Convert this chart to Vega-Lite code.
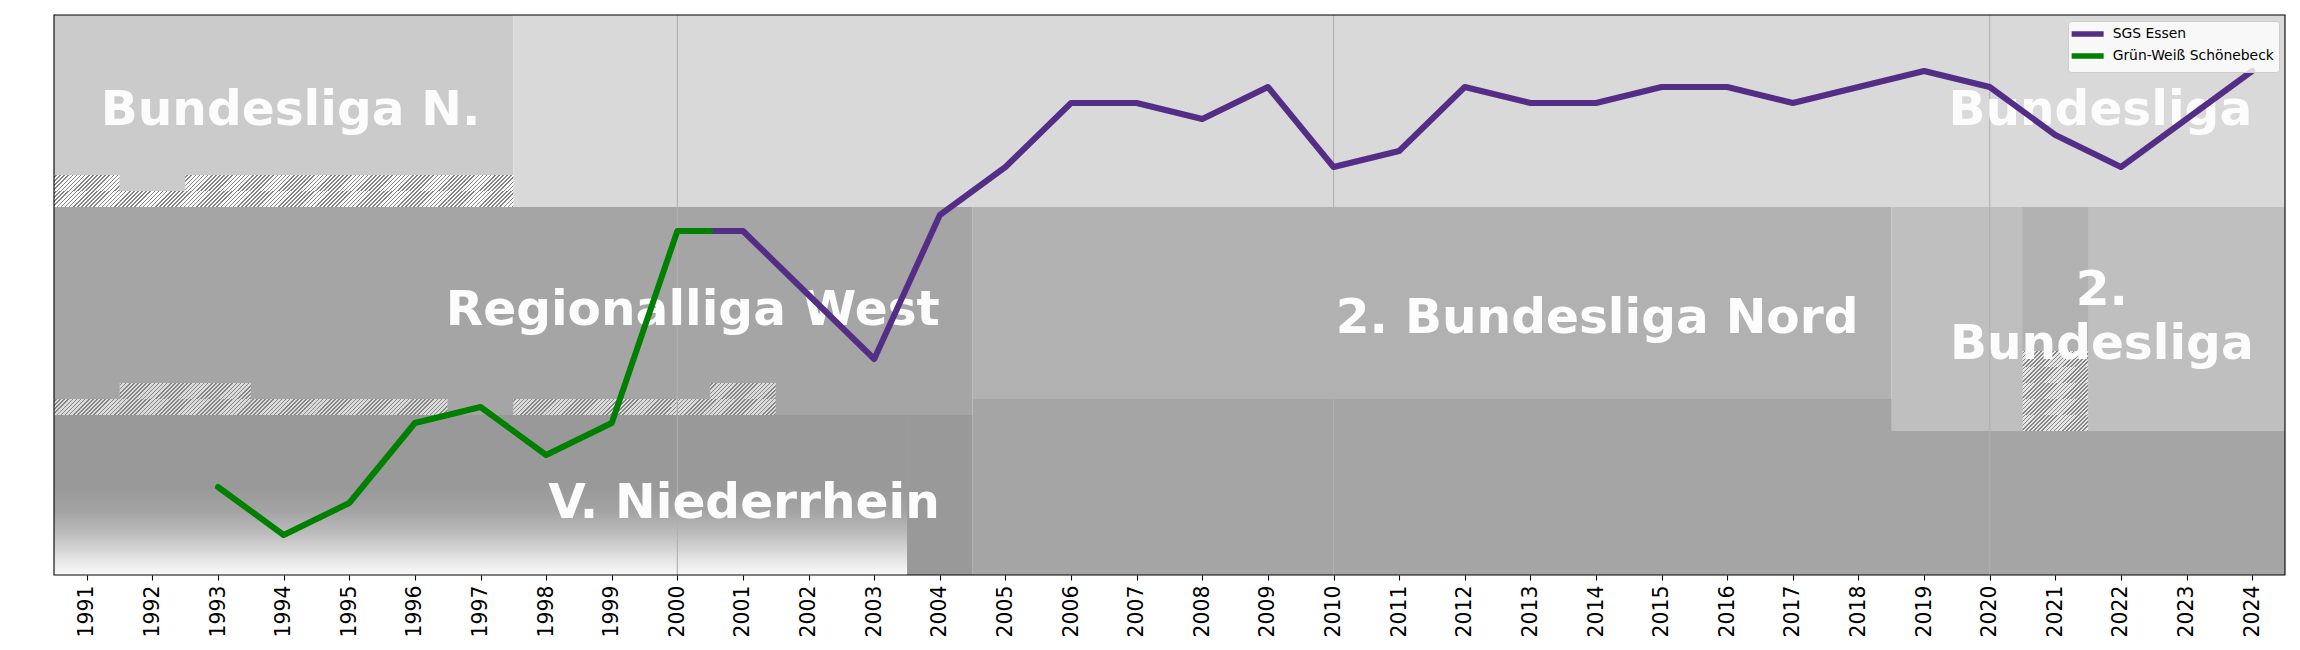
{
  "$schema": "https://vega.github.io/schema/vega-lite/v6.json",
  "width": 2231,
  "height": 560,
  "autosize": {"type": "none"},
  "padding": {"left": 54, "top": 15, "right": 15, "bottom": 75},
  "background": "white",
  "config": {
    "view": {"stroke": null},
    "font": "DejaVu Sans",
    "axisX": {"labelAngle": -90, "grid": false, "domain": false, "ticks": true, "tickColor": "black", "tickSize": 5, "tickWidth": 1.1,
      "labelFont": "DejaVu Sans", "labelFontSize": 20.4, "labelColor": "black", "labelPadding": 5, "labelOverlap": false, "labelFlush": false}
  },
  "datasets": {
    "leagues": [
      {"league": "Bundesliga N.", "x1": 1990.5, "x2": 1997.5, "y1": 0.5, "y2": 12.5},
      {"league": "Bundesliga", "x1": 1997.5, "x2": 2024.5, "y1": 0.5, "y2": 12.5},
      {"league": "Regionalliga West", "x1": 1990.5, "x2": 2004.5, "y1": 12.5, "y2": 25.5},
      {"league": "Regionalliga West", "x1": 2004.5, "x2": 2024.5, "y1": 24.5, "y2": 35.5},
      {"league": "2. Bundesliga Nord", "x1": 2004.5, "x2": 2018.5, "y1": 12.5, "y2": 24.5},
      {"league": "2. Bundesliga", "x1": 2018.5, "x2": 2024.5, "y1": 12.5, "y2": 26.5},
      {"league": "2. Bundesliga Nord", "x1": 2020.5, "x2": 2021.5, "y1": 12.5, "y2": 21.5},
      {"league": "Verbandsliga Niederrhein", "x1": 2003.5, "x2": 2004.5, "y1": 25.5, "y2": 35.5}
    ],
    "lowerleague": [
      {"league": "Verbandsliga Niederrhein", "x1": 1990.5, "x2": 2003.5, "y1": 25.5, "y2": 35.5}
    ],
    "hatchbg": [
      {"tier": "Bundesliga N.", "x1": 1990.5, "x2": 1991.5, "y1": 10.5, "y2": 12.5},
      {"tier": "Bundesliga N.", "x1": 1991.5, "x2": 1992.5, "y1": 11.5, "y2": 12.5},
      {"tier": "Bundesliga N.", "x1": 1992.5, "x2": 1997.5, "y1": 10.5, "y2": 12.5},
      {"tier": "Regionalliga West", "x1": 1990.5, "x2": 1991.5, "y1": 24.5, "y2": 25.5},
      {"tier": "Regionalliga West", "x1": 1991.5, "x2": 1993.5, "y1": 23.5, "y2": 25.5},
      {"tier": "Regionalliga West", "x1": 1993.5, "x2": 1996.5, "y1": 24.5, "y2": 25.5},
      {"tier": "Regionalliga West", "x1": 1997.5, "x2": 2000.5, "y1": 24.5, "y2": 25.5},
      {"tier": "Regionalliga West", "x1": 2000.5, "x2": 2001.5, "y1": 23.5, "y2": 25.5},
      {"tier": "2. Bundesliga Nord", "x1": 2020.5, "x2": 2021.5, "y1": 21.5, "y2": 26.5}
    ],
    "hatch": [
      {"tier": "Bundesliga N.", "x1": 1990.5, "x2": 1991.5, "y1": 10.5, "y2": 11.5},
      {"tier": "Bundesliga N.", "x1": 1990.5, "x2": 1991.5, "y1": 11.5, "y2": 12.5},
      {"tier": "Bundesliga N.", "x1": 1991.5, "x2": 1992.5, "y1": 11.5, "y2": 12.5},
      {"tier": "Bundesliga N.", "x1": 1992.5, "x2": 1993.5, "y1": 10.5, "y2": 11.5},
      {"tier": "Bundesliga N.", "x1": 1992.5, "x2": 1993.5, "y1": 11.5, "y2": 12.5},
      {"tier": "Bundesliga N.", "x1": 1993.5, "x2": 1994.5, "y1": 10.5, "y2": 11.5},
      {"tier": "Bundesliga N.", "x1": 1993.5, "x2": 1994.5, "y1": 11.5, "y2": 12.5},
      {"tier": "Bundesliga N.", "x1": 1994.5, "x2": 1995.5, "y1": 10.5, "y2": 11.5},
      {"tier": "Bundesliga N.", "x1": 1994.5, "x2": 1995.5, "y1": 11.5, "y2": 12.5},
      {"tier": "Bundesliga N.", "x1": 1995.5, "x2": 1996.5, "y1": 10.5, "y2": 11.5},
      {"tier": "Bundesliga N.", "x1": 1995.5, "x2": 1996.5, "y1": 11.5, "y2": 12.5},
      {"tier": "Bundesliga N.", "x1": 1996.5, "x2": 1997.5, "y1": 10.5, "y2": 11.5},
      {"tier": "Bundesliga N.", "x1": 1996.5, "x2": 1997.5, "y1": 11.5, "y2": 12.5},
      {"tier": "Regionalliga West", "x1": 1990.5, "x2": 1991.5, "y1": 24.5, "y2": 25.5},
      {"tier": "Regionalliga West", "x1": 1991.5, "x2": 1992.5, "y1": 23.5, "y2": 24.5},
      {"tier": "Regionalliga West", "x1": 1991.5, "x2": 1992.5, "y1": 24.5, "y2": 25.5},
      {"tier": "Regionalliga West", "x1": 1992.5, "x2": 1993.5, "y1": 23.5, "y2": 24.5},
      {"tier": "Regionalliga West", "x1": 1992.5, "x2": 1993.5, "y1": 24.5, "y2": 25.5},
      {"tier": "Regionalliga West", "x1": 1993.5, "x2": 1994.5, "y1": 24.5, "y2": 25.5},
      {"tier": "Regionalliga West", "x1": 1994.5, "x2": 1995.5, "y1": 24.5, "y2": 25.5},
      {"tier": "Regionalliga West", "x1": 1995.5, "x2": 1996.5, "y1": 24.5, "y2": 25.5},
      {"tier": "Regionalliga West", "x1": 1997.5, "x2": 1998.5, "y1": 24.5, "y2": 25.5},
      {"tier": "Regionalliga West", "x1": 1998.5, "x2": 1999.5, "y1": 24.5, "y2": 25.5},
      {"tier": "Regionalliga West", "x1": 1999.5, "x2": 2000.5, "y1": 24.5, "y2": 25.5},
      {"tier": "Regionalliga West", "x1": 2000.5, "x2": 2001.5, "y1": 23.5, "y2": 24.5},
      {"tier": "Regionalliga West", "x1": 2000.5, "x2": 2001.5, "y1": 24.5, "y2": 25.5},
      {"tier": "2. Bundesliga Nord", "x1": 2020.5, "x2": 2021.5, "y1": 21.5, "y2": 22.5},
      {"tier": "2. Bundesliga Nord", "x1": 2020.5, "x2": 2021.5, "y1": 22.5, "y2": 23.5},
      {"tier": "2. Bundesliga Nord", "x1": 2020.5, "x2": 2021.5, "y1": 23.5, "y2": 24.5},
      {"tier": "2. Bundesliga Nord", "x1": 2020.5, "x2": 2021.5, "y1": 24.5, "y2": 25.5},
      {"tier": "2. Bundesliga Nord", "x1": 2020.5, "x2": 2021.5, "y1": 25.5, "y2": 26.5}
    ],
    "grid": [{"season": 2000}, {"season": 2010}, {"season": 2020}],
    "labels": [
      {"label": "Bundesliga N.", "season": 1997, "rank": 7.39},
      {"label": "Bundesliga", "season": 2024, "rank": 7.39},
      {"label": "Regionalliga West", "season": 2004, "rank": 19.88},
      {"label": "2. Bundesliga Nord", "season": 2018, "rank": 20.39},
      {"label": "V. Niederrhein", "season": 2004, "rank": 31.96}
    ],
    "labels2": [
      {"label": "2.\nBundesliga", "season": 2024, "rank": 18.63}
    ],
    "ranks": [
      {"team": "SGS Essen", "season": 2000.5, "rank": 14},
      {"team": "SGS Essen", "season": 2001, "rank": 14},
      {"team": "SGS Essen", "season": 2002, "rank": 18},
      {"team": "SGS Essen", "season": 2003, "rank": 22},
      {"team": "SGS Essen", "season": 2004, "rank": 13},
      {"team": "SGS Essen", "season": 2005, "rank": 10},
      {"team": "SGS Essen", "season": 2006, "rank": 6},
      {"team": "SGS Essen", "season": 2007, "rank": 6},
      {"team": "SGS Essen", "season": 2008, "rank": 7},
      {"team": "SGS Essen", "season": 2009, "rank": 5},
      {"team": "SGS Essen", "season": 2010, "rank": 10},
      {"team": "SGS Essen", "season": 2011, "rank": 9},
      {"team": "SGS Essen", "season": 2012, "rank": 5},
      {"team": "SGS Essen", "season": 2013, "rank": 6},
      {"team": "SGS Essen", "season": 2014, "rank": 6},
      {"team": "SGS Essen", "season": 2015, "rank": 5},
      {"team": "SGS Essen", "season": 2016, "rank": 5},
      {"team": "SGS Essen", "season": 2017, "rank": 6},
      {"team": "SGS Essen", "season": 2018, "rank": 5},
      {"team": "SGS Essen", "season": 2019, "rank": 4},
      {"team": "SGS Essen", "season": 2020, "rank": 5},
      {"team": "SGS Essen", "season": 2021, "rank": 8},
      {"team": "SGS Essen", "season": 2022, "rank": 10},
      {"team": "SGS Essen", "season": 2023, "rank": 7},
      {"team": "SGS Essen", "season": 2024, "rank": 4},
      {"team": "Grün-Weiß Schönebeck", "season": 1993, "rank": 30},
      {"team": "Grün-Weiß Schönebeck", "season": 1994, "rank": 33},
      {"team": "Grün-Weiß Schönebeck", "season": 1995, "rank": 31},
      {"team": "Grün-Weiß Schönebeck", "season": 1996, "rank": 26},
      {"team": "Grün-Weiß Schönebeck", "season": 1997, "rank": 25},
      {"team": "Grün-Weiß Schönebeck", "season": 1998, "rank": 28},
      {"team": "Grün-Weiß Schönebeck", "season": 1999, "rank": 26},
      {"team": "Grün-Weiß Schönebeck", "season": 2000, "rank": 14},
      {"team": "Grün-Weiß Schönebeck", "season": 2000.5, "rank": 14}
    ]
  },
  "layer": [
    {
      "data": {"name": "leagues"},
      "mark": {"type": "rect"},
      "encoding": {
        "x": {"field": "x1", "type": "quantitative", "title": null, "scale": {"domain": [1990.5, 2024.5], "nice": false, "zero": false},
          "axis": {"values": [1991,1992,1993,1994,1995,1996,1997,1998,1999,2000,2001,2002,2003,2004,2005,2006,2007,2008,2009,2010,2011,2012,2013,2014,2015,2016,2017,2018,2019,2020,2021,2022,2023,2024], "format": "d"}},
        "x2": {"field": "x2"},
        "y": {"field": "y1", "type": "quantitative", "scale": {"domain": [0.5, 35.5], "reverse": true, "nice": false, "zero": false}, "axis": null},
        "y2": {"field": "y2"},
        "fill": {"field": "league", "type": "nominal",
          "scale": {"domain": ["Bundesliga N.", "Bundesliga", "Regionalliga West", "2. Bundesliga Nord", "2. Bundesliga", "Verbandsliga Niederrhein"],
                    "range": ["#cbcbcb", "#d9d9d9", "#a5a5a5", "#b1b1b1", "#bfbfbf", "#999999"]},
          "legend": null}
      }
    },
    {
      "data": {"name": "lowerleague"},
      "mark": {"type": "rect", "fill": {"gradient": "linear", "x1": 0, "y1": 0, "x2": 0, "y2": 1,
        "stops": [
          {"offset": 0, "color": "#999999"},
          {"offset": 0.45, "color": "#999999"},
          {"offset": 0.6, "color": "#a3a3a3"},
          {"offset": 0.74, "color": "#bcbcbc"},
          {"offset": 0.9, "color": "#e4e4e4"},
          {"offset": 1, "color": "#f9f9f9"}
        ]}},
      "encoding": {
        "x": {"field": "x1", "type": "quantitative", "title": null, "scale": {"domain": [1990.5, 2024.5], "nice": false, "zero": false}},
        "x2": {"field": "x2"},
        "y": {"field": "y1", "type": "quantitative", "scale": {"domain": [0.5, 35.5], "reverse": true, "nice": false, "zero": false}, "axis": null},
        "y2": {"field": "y2"}
      }
    },
    {
      "data": {"name": "hatchbg"},
      "mark": {"type": "rect"},
      "encoding": {
        "x": {"field": "x1", "type": "quantitative", "title": null, "scale": {"domain": [1990.5, 2024.5], "nice": false, "zero": false}},
        "x2": {"field": "x2"},
        "y": {"field": "y1", "type": "quantitative", "scale": {"domain": [0.5, 35.5], "reverse": true, "nice": false, "zero": false}, "axis": null},
        "y2": {"field": "y2"},
        "color": {"field": "tier", "type": "nominal",
          "scale": {"domain": ["Bundesliga N.", "Regionalliga West", "2. Bundesliga Nord"], "range": ["#fcfcfc", "#dbdbdb", "#e6e6e6"]},
          "legend": null}
      }
    },
    {
      "data": {"name": "hatch"},
      "mark": {"type": "rect", "fill": {"gradient": "linear", "x1": 0, "y1": 0, "x2": 1.174, "y2": 0.2863,
        "stops": [
          {"offset": 0, "color": "rgba(128,128,128,0)"},
          {"offset": 0.0200, "color": "rgba(128,128,128,0)"}, {"offset": 0.0200, "color": "#858585"}, {"offset": 0.0396, "color": "#858585"}, {"offset": 0.0396, "color": "rgba(128,128,128,0)"},
          {"offset": 0.0702, "color": "rgba(128,128,128,0)"}, {"offset": 0.0702, "color": "#858585"}, {"offset": 0.0898, "color": "#858585"}, {"offset": 0.0898, "color": "rgba(128,128,128,0)"},
          {"offset": 0.1205, "color": "rgba(128,128,128,0)"}, {"offset": 0.1205, "color": "#858585"}, {"offset": 0.1401, "color": "#858585"}, {"offset": 0.1401, "color": "rgba(128,128,128,0)"},
          {"offset": 0.1707, "color": "rgba(128,128,128,0)"}, {"offset": 0.1707, "color": "#858585"}, {"offset": 0.1903, "color": "#858585"}, {"offset": 0.1903, "color": "rgba(128,128,128,0)"},
          {"offset": 0.2210, "color": "rgba(128,128,128,0)"}, {"offset": 0.2210, "color": "#858585"}, {"offset": 0.2406, "color": "#858585"}, {"offset": 0.2406, "color": "rgba(128,128,128,0)"},
          {"offset": 0.2712, "color": "rgba(128,128,128,0)"}, {"offset": 0.2712, "color": "#858585"}, {"offset": 0.2908, "color": "#858585"}, {"offset": 0.2908, "color": "rgba(128,128,128,0)"},
          {"offset": 0.3215, "color": "rgba(128,128,128,0)"}, {"offset": 0.3215, "color": "#858585"}, {"offset": 0.3411, "color": "#858585"}, {"offset": 0.3411, "color": "rgba(128,128,128,0)"},
          {"offset": 0.3717, "color": "rgba(128,128,128,0)"}, {"offset": 0.3717, "color": "#858585"}, {"offset": 0.3913, "color": "#858585"}, {"offset": 0.3913, "color": "rgba(128,128,128,0)"},
          {"offset": 0.4220, "color": "rgba(128,128,128,0)"}, {"offset": 0.4220, "color": "#858585"}, {"offset": 0.4416, "color": "#858585"}, {"offset": 0.4416, "color": "rgba(128,128,128,0)"},
          {"offset": 0.4722, "color": "rgba(128,128,128,0)"}, {"offset": 0.4722, "color": "#858585"}, {"offset": 0.4918, "color": "#858585"}, {"offset": 0.4918, "color": "rgba(128,128,128,0)"},
          {"offset": 0.5225, "color": "rgba(128,128,128,0)"}, {"offset": 0.5225, "color": "#858585"}, {"offset": 0.5421, "color": "#858585"}, {"offset": 0.5421, "color": "rgba(128,128,128,0)"},
          {"offset": 0.5727, "color": "rgba(128,128,128,0)"}, {"offset": 0.5727, "color": "#858585"}, {"offset": 0.5923, "color": "#858585"}, {"offset": 0.5923, "color": "rgba(128,128,128,0)"},
          {"offset": 0.6229, "color": "rgba(128,128,128,0)"}, {"offset": 0.6229, "color": "#858585"}, {"offset": 0.6425, "color": "#858585"}, {"offset": 0.6425, "color": "rgba(128,128,128,0)"},
          {"offset": 0.6732, "color": "rgba(128,128,128,0)"}, {"offset": 0.6732, "color": "#858585"}, {"offset": 0.6928, "color": "#858585"}, {"offset": 0.6928, "color": "rgba(128,128,128,0)"},
          {"offset": 0.7234, "color": "rgba(128,128,128,0)"}, {"offset": 0.7234, "color": "#858585"}, {"offset": 0.7430, "color": "#858585"}, {"offset": 0.7430, "color": "rgba(128,128,128,0)"},
          {"offset": 0.7737, "color": "rgba(128,128,128,0)"}, {"offset": 0.7737, "color": "#858585"}, {"offset": 0.7933, "color": "#858585"}, {"offset": 0.7933, "color": "rgba(128,128,128,0)"},
          {"offset": 0.8239, "color": "rgba(128,128,128,0)"}, {"offset": 0.8239, "color": "#858585"}, {"offset": 0.8435, "color": "#858585"}, {"offset": 0.8435, "color": "rgba(128,128,128,0)"},
          {"offset": 0.8742, "color": "rgba(128,128,128,0)"}, {"offset": 0.8742, "color": "#858585"}, {"offset": 0.8938, "color": "#858585"}, {"offset": 0.8938, "color": "rgba(128,128,128,0)"},
          {"offset": 0.9244, "color": "rgba(128,128,128,0)"}, {"offset": 0.9244, "color": "#858585"}, {"offset": 0.9440, "color": "#858585"}, {"offset": 0.9440, "color": "rgba(128,128,128,0)"},
          {"offset": 0.9747, "color": "rgba(128,128,128,0)"}, {"offset": 0.9747, "color": "#858585"}, {"offset": 0.9943, "color": "#858585"}, {"offset": 0.9943, "color": "rgba(128,128,128,0)"},
          {"offset": 1, "color": "rgba(128,128,128,0)"}
        ]}},
      "encoding": {
        "x": {"field": "x1", "type": "quantitative", "title": null, "scale": {"domain": [1990.5, 2024.5], "nice": false, "zero": false}},
        "x2": {"field": "x2"},
        "y": {"field": "y1", "type": "quantitative", "scale": {"domain": [0.5, 35.5], "reverse": true, "nice": false, "zero": false}, "axis": null},
        "y2": {"field": "y2"}
      }
    },
    {
      "data": {"name": "grid"},
      "mark": {"type": "rule", "color": "#b0b0b0", "strokeWidth": 1.1},
      "encoding": {
        "x": {"field": "season", "type": "quantitative", "title": null, "scale": {"domain": [1990.5, 2024.5], "nice": false, "zero": false}}
      }
    },
    {
      "data": {"name": "labels"},
      "mark": {"type": "text", "align": "right", "baseline": "alphabetic", "font": "DejaVu Sans", "fontWeight": "bold", "fontSize": 48.6, "fill": "#fcfcfc"},
      "encoding": {
        "x": {"field": "season", "type": "quantitative", "title": null, "scale": {"domain": [1990.5, 2024.5], "nice": false, "zero": false}},
        "y": {"field": "rank", "type": "quantitative", "scale": {"domain": [0.5, 35.5], "reverse": true, "nice": false, "zero": false}, "axis": null},
        "text": {"field": "label", "type": "nominal"}
      }
    },
    {
      "data": {"name": "labels2"},
      "mark": {"type": "text", "align": "center", "baseline": "alphabetic", "dx": -150.4, "lineBreak": "\n", "lineHeight": 54.3, "font": "DejaVu Sans", "fontWeight": "bold", "fontSize": 48.6, "fill": "#fcfcfc"},
      "encoding": {
        "x": {"field": "season", "type": "quantitative", "title": null, "scale": {"domain": [1990.5, 2024.5], "nice": false, "zero": false}},
        "y": {"field": "rank", "type": "quantitative", "scale": {"domain": [0.5, 35.5], "reverse": true, "nice": false, "zero": false}, "axis": null},
        "text": {"field": "label", "type": "nominal"}
      }
    },
    {
      "data": {"name": "ranks"},
      "mark": {"type": "line", "strokeWidth": 6, "strokeCap": "round", "strokeJoin": "round"},
      "encoding": {
        "x": {"field": "season", "type": "quantitative", "title": null, "scale": {"domain": [1990.5, 2024.5], "nice": false, "zero": false}},
        "y": {"field": "rank", "type": "quantitative", "scale": {"domain": [0.5, 35.5], "reverse": true, "nice": false, "zero": false}, "axis": null},
        "stroke": {"field": "team", "type": "nominal",
          "scale": {"domain": ["SGS Essen", "Grün-Weiß Schönebeck"], "range": ["#542d86", "#008000"]},
          "legend": {"title": null, "orient": "top-right", "offset": 6, "symbolType": "M-3.2,0H3.2", "symbolSize": 100, "symbolStrokeWidth": 5.5,
            "symbolOffset": 6.65, "labelOffset": 17, "labelLimit": 400,
            "labelFont": "DejaVu Sans", "labelFontSize": 13.9, "labelColor": "black",
            "fillColor": "rgba(255,255,255,0.8)", "strokeColor": "#cccccc", "cornerRadius": 3, "padding": 5, "rowPadding": 0}}
      }
    },
    {
      "data": {"values": [{}]},
      "mark": {"type": "rect", "fill": "transparent", "stroke": "black", "strokeWidth": 1.1},
      "encoding": {
        "x": {"datum": 1990.5, "type": "quantitative", "title": null, "scale": {"domain": [1990.5, 2024.5], "nice": false, "zero": false}},
        "x2": {"datum": 2024.5},
        "y": {"datum": 0.5, "type": "quantitative", "scale": {"domain": [0.5, 35.5], "reverse": true, "nice": false, "zero": false}, "axis": null},
        "y2": {"datum": 35.5}
      }
    }
  ]
}
